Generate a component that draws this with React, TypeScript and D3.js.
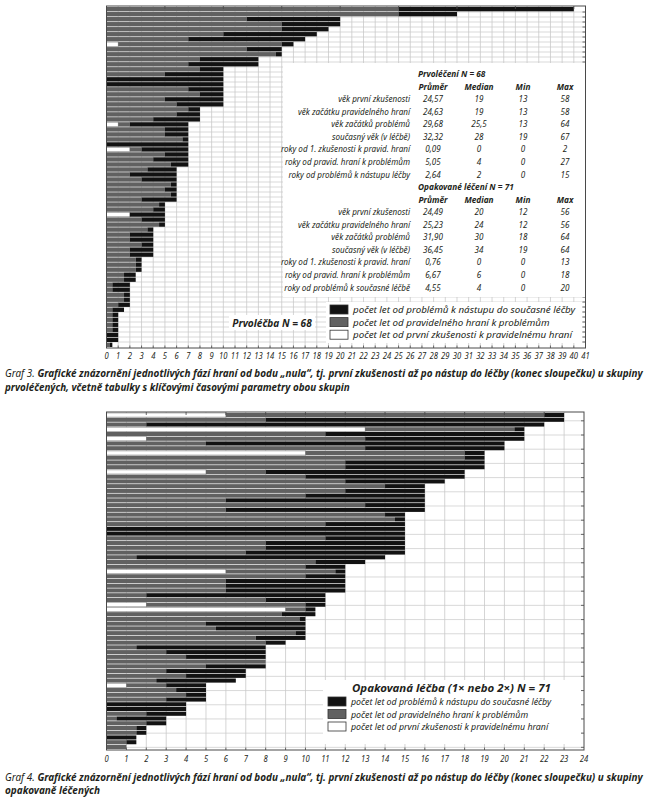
import React, { useLayoutEffect, useRef, useState } from "react";
import * as d3 from "d3";

const W = 654;
const H = 801;
const INK = "#231f20";
const GRID = "#c9c9c9";
const GREY = "#616161";
const BLACK = "#121212";
const FONT = "'Noto Sans', 'Open Sans', sans-serif";

// Graf 3 – prvoléčení (N = 68), years spent in each phase, one entry per person
const firstToRegular1 = [
  0, 0, 0, 0, 0, 0, 0, 1, 0, 0, 0, 0, 0, 0, 0, 0, 0, 0, 0, 0, 0, 0, 0, 1, 0, 0, 0, 0, 2, 0, 0, 0, 0, 0,
  0, 0, 0, 0, 0, 0, 0, 2, 0, 0, 0, 0, 0, 0, 0, 0, 0, 0, 0, 0, 0, 0, 0, 0, 0, 0, 0, 0, 0, 0, 0, 0, 0, 0,
];
const regularToProblems1 = [
  25, 25, 12, 15, 15, 10, 7, 14, 12, 14.5, 8, 7, 8, 5, 0, 0, 7, 8, 5, 6, 7, 6, 4, 1, 5, 5, 6.5, 0, 1, 5,
  4, 5.5, 3.5, 2, 3, 5.5, 5, 5.5, 3, 4.5, 4, 0, 3, 4.5, 3.5, 2, 2, 3, 2, 2, 2.5, 2.5, 2.5, 1.5, 1.5, 0.5,
  0.5, 1.5, 1.5, 1, 0.5, 0.5, 0.5, 0.5, 0.5, 0, 0, 0.3,
];
const problemsToTreatment1 = [
  15, 5, 8, 5, 4, 8, 10, 1, 3, 0.5, 5, 6, 2, 5, 10, 10, 3, 2, 5, 4, 1, 2, 4, 5, 2, 2, 0.5, 7, 4, 2, 3,
  1.5, 2.5, 4, 3, 0.5, 1, 0.5, 3, 0.5, 1, 3, 2, 0.5, 0.5, 2, 2, 1, 2, 2, 0.5, 0.5, 0.5, 1, 1, 1.5, 1.5,
  0.5, 0.5, 1, 1, 0.5, 0.5, 0.5, 0.5, 1, 1, 0.2,
];

// Graf 4 – opakovaná léčba (N = 71)
const firstToRegular2 = [
  6, 0, 0, 13, 0, 2, 0, 0, 10, 0, 0, 0, 5, 0, 0, 0, 0, 0, 0, 0, 0, 0, 0, 0, 0, 0, 0, 0, 0, 0, 0, 0, 0,
  6, 0, 0, 0, 0, 0, 0, 2, 9, 0, 0, 0, 0, 0, 0, 0, 0, 0, 0, 0, 0, 0, 0, 0, 1, 0, 0, 0, 0, 0, 0, 0, 0, 0,
  0, 0, 0, 0,
];
const regularToProblems2 = [
  16, 8, 2, 7.5, 11, 11, 5, 13, 8, 18, 12, 12, 3, 10, 12, 14, 12, 10, 6, 13, 6, 14, 14.5, 11, 0, 0, 11,
  8, 8, 7, 1.5, 10.5, 10, 5.5, 10, 6, 6, 6, 2, 8, 8, 1, 8.8, 9.7, 5, 5.5, 9.5, 7.5, 8, 1.5, 3, 4, 8, 5,
  3, 4, 2.5, 2, 3.5, 4, 3, 0, 0, 2, 0.5, 2, 1.5, 1.5, 0, 1, 1,
];
const problemsToTreatment2 = [
  1, 15, 20, 0.5, 10, 8, 15, 7, 1, 1, 7, 7, 10, 8, 5, 2, 4, 6, 10, 3, 10, 1, 0.5, 4, 15, 15, 4, 7, 7, 8,
  12.5, 2.5, 2, 0.5, 2, 6, 6, 6, 9, 3, 1, 0.5, 1.7, 0.3, 5, 4.5, 0.5, 2.5, 1, 6.5, 5, 4, 0, 3, 4, 3, 4,
  2, 1.5, 1, 2, 4, 4, 2, 2.5, 1, 0.5, 0.5, 1.5, 0.5, 0,
];

const xTicks1 = d3.range(0, 42);
const xTicks2 = d3.range(0, 25);

const statColumns = ["Průměr", "Median", "Min", "Max"];
const statTitle1 = "Prvoléčení N = 68";
const statRows1 = [
  "věk první zkušenosti",
  "věk začátku pravidelného hraní",
  "věk začátků problémů",
  "současný věk (v léčbě)",
  "roky od 1. zkušenosti k pravid. hraní",
  "roky od pravid. hraní k problémům",
  "roky od problémů k nástupu léčby",
];
const statValues1 = [
  ["24,57", "19", "13", "58"],
  ["24,63", "19", "13", "58"],
  ["29,68", "25,5", "13", "64"],
  ["32,32", "28", "19", "67"],
  ["0,09", "0", "0", "2"],
  ["5,05", "4", "0", "27"],
  ["2,64", "2", "0", "15"],
];
const statTitle2 = "Opakované léčení N = 71";
const statRows2 = [
  "věk první zkušenosti",
  "věk začátku pravidelného hraní",
  "věk začátků problémů",
  "současný věk (v léčbě)",
  "roky od 1. zkušenosti k pravid. hraní",
  "roky od pravid. hraní k problémům",
  "roky od problémů k současné léčbě",
];
const statValues2 = [
  ["24,49", "20", "12", "56"],
  ["25,23", "24", "12", "56"],
  ["31,90", "30", "18", "64"],
  ["36,45", "34", "19", "64"],
  ["0,76", "0", "0", "13"],
  ["6,67", "6", "0", "18"],
  ["4,55", "4", "0", "20"],
];

const legendLabels = [
  "počet let od problémů k nástupu do současné léčby",
  "počet let od pravidelného hraní k problémům",
  "počet let od první zkušenosti k pravidelnému hraní",
];
const legendColors = [BLACK, GREY, "#ffffff"];

// condensed italic text (the original uses a narrow typeface)
function CText({ x, y, size = 8, sx = 0.8, anchor = "start", weight = 400, children }) {
  return (
    <text
      transform={`translate(${x},${y}) scale(${sx},1)`}
      fontSize={size}
      fontStyle="italic"
      fontWeight={weight}
      fontFamily={FONT}
      fill={INK}
      textAnchor={anchor}
    >
      {children}
    </text>
  );
}

// text squeezed horizontally to a given width
function FitText({ x, y, width, size, children }) {
  const ref = useRef(null);
  const [s, setS] = useState(0.8);
  useLayoutEffect(() => {
    const len = ref.current ? ref.current.getComputedTextLength() : 0;
    if (len > 0) setS(width / len);
  }, [width]);
  return (
    <text
      ref={ref}
      transform={`translate(${x},${y}) scale(${s},1)`}
      fontSize={size}
      fontStyle="italic"
      fontFamily={FONT}
      fill={INK}
    >
      {children}
    </text>
  );
}

function PhasePanel({ first, regular, problems, xMax, top, bottom, left, right, topTickEvery, rowGridEvery, rowGridOffset }) {
  const n = first.length;
  const x = d3.scaleLinear().domain([0, xMax]).range([left, right]);
  const y = d3.scaleBand().domain(d3.range(n)).range([top + 1, bottom - 1]).paddingInner(0.14);
  const rowLine = d3.scaleLinear().domain([0, n]).range([top + 1, bottom - 1]);
  const gridRows = d3.range(rowGridOffset, n, rowGridEvery);

  const segs = [];
  for (let i = 0; i < n; i++) {
    const a = first[i];
    const b = a + regular[i];
    const c = b + problems[i];
    if (a > 0) segs.push({ i, x0: 0, x1: a, fill: "#ffffff", stroke: "#8a8a8a" });
    if (regular[i] > 0) segs.push({ i, x0: a, x1: b, fill: GREY });
    if (problems[i] > 0) segs.push({ i, x0: b, x1: c, fill: BLACK });
  }

  return (
    <g>
      {d3.range(1, xMax).map((t) => (
        <line key={"v" + t} x1={x(t)} x2={x(t)} y1={top} y2={bottom} stroke={GRID} strokeWidth={0.8} />
      ))}
      {gridRows.map((r) => (
        <line key={"h" + r} x1={left} x2={right} y1={rowLine(r)} y2={rowLine(r)} stroke={GRID} strokeWidth={0.7} />
      ))}
      {segs.map((s, k) => (
        <rect
          key={k}
          x={x(s.x0)}
          y={y(s.i)}
          width={Math.max(0, x(s.x1) - x(s.x0))}
          height={y.bandwidth()}
          fill={s.fill}
          stroke={s.stroke || "none"}
          strokeWidth={s.stroke ? 0.6 : 0}
        />
      ))}
      <rect x={left} y={top} width={right - left} height={bottom - top} fill="none" stroke="#4a4a4a" strokeWidth={1} />
      {d3.range(topTickEvery, xMax, topTickEvery).map((t) => (
        <line key={"tt" + t} x1={x(t)} x2={x(t)} y1={top} y2={top + 3} stroke="#4a4a4a" strokeWidth={0.8} />
      ))}
      {d3.range(1, xMax).map((t) => (
        <line key={"bt" + t} x1={x(t)} x2={x(t)} y1={bottom} y2={bottom - 2.5} stroke="#4a4a4a" strokeWidth={0.8} />
      ))}
      {gridRows.map((r) => (
        <line key={"rt" + r} x1={right} x2={right - 3} y1={rowLine(r)} y2={rowLine(r)} stroke="#4a4a4a" strokeWidth={0.8} />
      ))}
    </g>
  );
}

function StatTable({ title, rows, values, top }) {
  const cols = [433, 479, 523, 565];
  const rowY = d3.scaleLinear().domain([0, 1]).range([top + 25, top + 37.6]);
  return (
    <g>
      <CText x={418} y={top} weight={700} size={9.2} sx={0.9}>{title}</CText>
      {statColumns.map((c, j) => (
        <CText key={c} x={cols[j]} y={top + 12.6} weight={700} size={9.2} sx={0.9} anchor="middle">{c}</CText>
      ))}
      {rows.map((r, i) => (
        <g key={r}>
          <CText x={410} y={rowY(i)} size={9} sx={0.9} anchor="end">{r}</CText>
          {values[i].map((v, j) => (
            <CText key={j} x={cols[j]} y={rowY(i)} size={9} sx={0.9} anchor="middle">{v}</CText>
          ))}
        </g>
      ))}
    </g>
  );
}

function Legend({ x, y, step, size, sx }) {
  return (
    <g>
      {legendLabels.map((l, i) => (
        <g key={l}>
          <rect x={x} y={y + i * step} width={18} height={9} fill={legendColors[i]} stroke="#333" strokeWidth={0.8} />
          <CText x={x + 23} y={y + i * step + 8} size={size} sx={sx}>{l}</CText>
        </g>
      ))}
    </g>
  );
}

export default function App() {
  const x1 = d3.scaleLinear().domain([0, 41]).range([106.5, 585.5]);
  const x2 = d3.scaleLinear().domain([0, 24]).range([106.5, 584]);
  return (
    <svg width={W} height={H} style={{ position: "absolute", left: 0, top: 0, background: "#fff" }}>
      {/* Graf 3 */}
      <PhasePanel
        first={firstToRegular1}
        regular={regularToProblems1}
        problems={problemsToTreatment1}
        xMax={41}
        top={6}
        bottom={348}
        left={106.5}
        right={585.5}
        topTickEvery={5}
        rowGridEvery={1}
        rowGridOffset={1}
      />
      <rect x={283} y={63} width={302} height={234} fill="#fff" />
      <StatTable title={statTitle1} rows={statRows1} values={statValues1} top={77} />
      <StatTable title={statTitle2} rows={statRows2} values={statValues2} top={190} />
      <rect x={229} y={315} width={86} height={15} fill="#fff" />
      <CText x={272} y={327} size={11} sx={0.92} weight={700} anchor="middle">Prvoléčba N = 68</CText>
      <rect x={326} y={302} width={256} height={41} fill="#fff" />
      <Legend x={330} y={305} step={12.6} size={9.8} sx={1.0} />
      {xTicks1.map((t) => (
        <CText key={t} x={x1(t)} y={359} size={9} sx={0.85} anchor="middle">{t}</CText>
      ))}
      <FitText x={5} y={377} width={638} size={10.5}>
        <tspan>Graf 3. </tspan>
        <tspan fontWeight={700}>Grafické znázornění jednotlivých fází hraní od bodu „nula“, tj. první zkušenosti až po nástup do léčby (konec sloupečku) u skupiny</tspan>
      </FitText>
      <FitText x={5} y={391} width={345} size={10.5}>
        <tspan fontWeight={700}>prvoléčených, včetně tabulky s klíčovými časovými parametry obou skupin</tspan>
      </FitText>

      {/* Graf 4 */}
      <PhasePanel
        first={firstToRegular2}
        regular={regularToProblems2}
        problems={problemsToTreatment2}
        xMax={24}
        top={412}
        bottom={750}
        left={106.5}
        right={584}
        topTickEvery={2}
        rowGridEvery={3}
        rowGridOffset={1.65}
      />
      <rect x={323} y={680} width={258} height={64} fill="#fff" />
      <CText x={352} y={692} size={11} sx={1.04} weight={700}>Opakovaná léčba (1× nebo 2×) N = 71</CText>
      <Legend x={328} y={697} step={12.5} size={9.6} sx={0.92} />
      {xTicks2.map((t) => (
        <CText key={t} x={x2(t)} y={762} size={9} sx={0.85} anchor="middle">{t}</CText>
      ))}
      <FitText x={5} y={781} width={638} size={10.5}>
        <tspan>Graf 4. </tspan>
        <tspan fontWeight={700}>Grafické znázornění jednotlivých fází hraní od bodu „nula“, tj. první zkušenosti až po nástup do léčby (konec sloupečku) u skupiny</tspan>
      </FitText>
      <FitText x={5} y={794} width={95} size={10.5}>
        <tspan fontWeight={700}>opakovaně léčených</tspan>
      </FitText>
    </svg>
  );
}
